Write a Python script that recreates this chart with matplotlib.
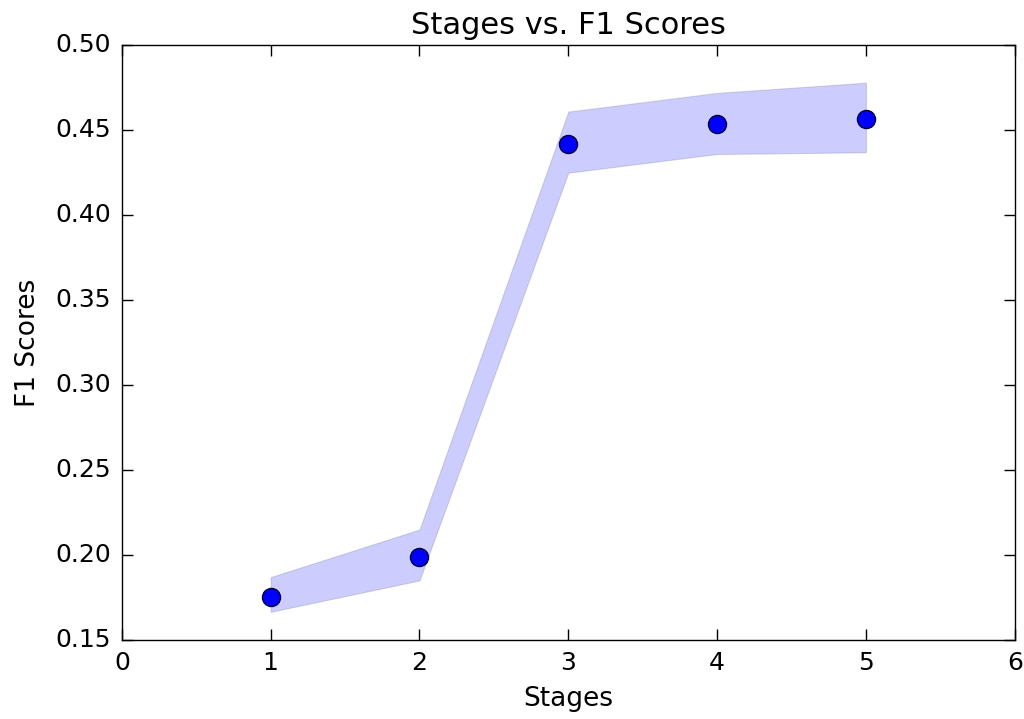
import matplotlib
matplotlib.use("Agg")
import matplotlib.pyplot as plt

plt.style.use("classic")

stages = [1, 2, 3, 4, 5]
f1_mean = [0.175, 0.199, 0.442, 0.4535, 0.4565]
f1_upper = [0.187, 0.215, 0.461, 0.472, 0.478]
f1_lower = [0.1665, 0.185, 0.425, 0.436, 0.437]

fig = plt.figure(figsize = (10.24, 7.19), dpi = 100, facecolor = "white")
ax = fig.add_axes([0.119, 0.11, 0.872, 0.827])

# Band between lower and upper scores
ax.fill_between(stages, f1_lower, f1_upper, facecolor = "blue", alpha = 0.2, edgecolor = "#555555", linewidth = 0.8)
ax.plot(stages, f1_mean, "o", color = "blue", markersize = 13, markeredgecolor = "#000033", markeredgewidth = 1)

ax.set_xlim(0, 6)
ax.set_ylim(0.15, 0.50)
ax.set_xticks(range(7))
ax.set_yticks([0.15, 0.20, 0.25, 0.30, 0.35, 0.40, 0.45, 0.50])
ax.set_yticklabels([f"{v:.2f}" for v in ax.get_yticks()])
ax.tick_params(labelsize = 18, length = 8, width = 1, pad = 8)

ax.set_title("Stages vs. F1 Scores", fontsize = 22, pad = 8)
ax.set_xlabel("Stages", fontsize = 19, labelpad = 8)
ax.set_ylabel("F1 Scores", fontsize = 19, labelpad = 10)

fig.savefig("out.png", dpi = 100, facecolor = "white")
